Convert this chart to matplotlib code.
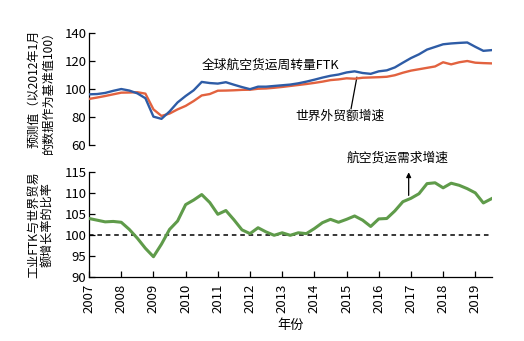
import numpy as np
import matplotlib
matplotlib.use('Agg')
import matplotlib.pyplot as plt

plt.rcParams.update({
    'font.family': ['Noto Sans CJK SC', 'DejaVu Sans'],
    'font.size': 8.5,
    'axes.linewidth': 0.9,
})

# Quarterly observations, 2007Q1 .. 2019Q3
years = 2007 + 0.25 * np.arange(51)

ftk = [96.3, 96.5, 97.3, 98.8, 100.1, 99.0, 97.0, 93.5, 80.3, 78.7,
       84.0, 90.5, 95.1, 99.2, 105.2, 104.4, 104.0, 105.0, 103.2, 101.5,
       100.0, 101.8, 101.8, 102.3, 102.8, 103.3, 104.2, 105.4, 106.8, 108.3,
       109.6, 110.5, 112.0, 112.8, 111.6, 111.0, 112.8, 113.5, 115.6, 119.0,
       122.3, 125.0, 128.4, 130.3, 132.2, 132.8, 133.2, 133.5, 130.4, 127.5,
       128.0]

trade = [93.0, 94.0, 95.1, 96.3, 97.5, 97.6, 97.8, 96.8, 85.5, 80.8,
         82.5, 85.5, 88.0, 91.5, 95.5, 96.5, 98.9, 99.0, 99.2, 99.5,
         99.6, 100.3, 100.5, 101.0, 101.6, 102.3, 103.0, 103.7, 104.5, 105.4,
         106.5, 107.0, 107.8, 107.5, 108.2, 108.4, 108.6, 108.9, 110.0, 111.8,
         113.3, 114.3, 115.3, 116.3, 119.3, 117.8, 119.3, 120.2, 119.0, 118.7,
         118.5]

ratio = [103.9, 103.5, 103.1, 103.2, 103.0, 101.3, 99.2, 96.8, 94.8, 97.8,
         101.3, 103.3, 107.2, 108.3, 109.6, 107.7, 104.9, 105.8, 103.6, 101.2,
         100.3, 101.7, 100.7, 99.9, 100.5, 99.9, 100.5, 100.3, 101.5, 102.9,
         103.7, 103.0, 103.7, 104.5, 103.5, 102.0, 103.8, 103.9, 105.7, 107.9,
         108.7, 109.8, 112.2, 112.4, 111.2, 112.3, 111.8, 111.0, 110.0, 107.6,
         108.6]

year_ticks = list(range(2007, 2020))

BLUE = '#2e5ca6'
ORANGE = '#e2623f'
GREEN = '#5f9b4a'

fig = plt.figure(figsize=(5.24, 3.41), dpi=100)
ax1 = fig.add_axes([0.170, 0.575, 0.769, 0.327])
ax2 = fig.add_axes([0.170, 0.188, 0.769, 0.308])

xlim = (2007, 2019.52)

# Upper panel: index levels
ax1.plot(years, trade, color=ORANGE, lw=1.7, zorder=3)
ax1.plot(years, ftk, color=BLUE, lw=1.7, zorder=4)
ax1.set_xlim(*xlim)
ax1.set_ylim(60, 140)
ax1.set_yticks([60, 80, 100, 120, 140])
ax1.set_xticks([])
for s in ('top', 'right', 'bottom'):
    ax1.spines[s].set_visible(False)
ax1.tick_params(axis='y', direction='in', length=4, width=0.9, pad=2,
                labelsize=9.5)
ax1.set_ylabel('预测值（以2012年1月\n的数据作为基准值100）', fontsize=8.7,
               linespacing=1.1, labelpad=7)

ax1.text(2010.5, 117.0, '全球航空货运周转量FTK', fontsize=9.2,
         ha='left', va='center')
ax1.text(2014.8, 80.3, '世界外贸额增速', fontsize=9.2, ha='center', va='center')
ax1.plot([2015.32, 2015.14], [108.5, 86.0], color='black', lw=0.9)

# Lower panel: ratio of growth rates
ax2.axhline(100, color='black', lw=1.1, ls=(0, (3, 2.5)), zorder=2)
ax2.plot(years, ratio, color=GREEN, lw=2.2, zorder=3)
ax2.set_xlim(*xlim)
ax2.set_ylim(90, 115)
ax2.set_yticks([90, 95, 100, 105, 110, 115])
ax2.set_xticks(year_ticks)
ax2.set_xticklabels([str(y) for y in year_ticks], rotation=90)
for s in ('top', 'right'):
    ax2.spines[s].set_visible(False)
ax2.tick_params(axis='both', direction='in', length=4, width=0.9,
                labelsize=9.5)
ax2.tick_params(axis='y', pad=2)
ax2.tick_params(axis='x', pad=5)
ax2.set_ylabel('工业FTK与世界贸易\n额增长率的比率', fontsize=8.7,
               linespacing=1.1, labelpad=7)
ax2.set_xlabel('年份', fontsize=9.5, labelpad=4)

ax2.annotate('', xy=(2016.93, 114.9), xytext=(2016.93, 109.4),
             arrowprops=dict(arrowstyle='-|>', color='black', lw=0.9,
                             mutation_scale=7, shrinkA=0, shrinkB=0))
ax2.text(2016.6, 118.2, '航空货运需求增速', fontsize=9.2, ha='center',
         va='center', clip_on=False)

fig.savefig('out.png', dpi=100)
